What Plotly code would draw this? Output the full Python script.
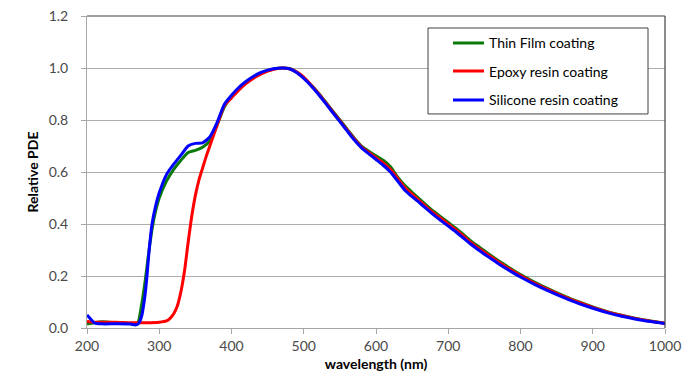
import plotly.graph_objects as go

# ---- data ----
wl_thin = [200, 210, 220, 230, 240, 250, 260, 270, 275, 280, 285, 290, 295, 300, 310, 320, 330, 340, 350, 360, 370, 380, 390, 400, 410, 420, 430, 440, 450, 460, 470, 480, 490, 500, 510, 520, 530, 540, 550, 560, 570, 580, 590, 600, 610, 620, 630, 640, 650, 660, 670, 680, 690, 700, 710, 720, 730, 740, 750, 760, 770, 780, 790, 800, 820, 840, 860, 880, 900, 920, 940, 960, 980, 1000]
thin_film = [0.015, 0.02, 0.024, 0.022, 0.02, 0.018, 0.017, 0.018, 0.08, 0.17, 0.28, 0.38, 0.45, 0.50, 0.565, 0.61, 0.645, 0.675, 0.683, 0.695, 0.72, 0.78, 0.85, 0.89, 0.92, 0.945, 0.965, 0.98, 0.99, 0.997, 1.0, 0.998, 0.985, 0.962, 0.935, 0.905, 0.87, 0.835, 0.80, 0.765, 0.73, 0.70, 0.68, 0.662, 0.645, 0.62, 0.58, 0.548, 0.522, 0.497, 0.472, 0.448, 0.427, 0.406, 0.385, 0.362, 0.338, 0.317, 0.297, 0.277, 0.258, 0.24, 0.222, 0.206, 0.176, 0.149, 0.124, 0.101, 0.081, 0.063, 0.049, 0.037, 0.027, 0.018]

wl_epoxy = [200, 210, 220, 240, 260, 280, 300, 310, 315, 320, 325, 330, 335, 340, 345, 350, 355, 360, 365, 370, 380, 390, 400, 410, 420, 430, 440, 450, 460, 470, 480, 490, 500, 510, 520, 530, 540, 550, 560, 570, 580, 590, 600, 610, 620, 630, 640, 650, 660, 670, 680, 690, 700, 710, 720, 730, 740, 750, 760, 770, 780, 790, 800, 820, 840, 860, 880, 900, 920, 940, 960, 980, 1000]
epoxy = [0.025, 0.022, 0.022, 0.022, 0.02, 0.02, 0.022, 0.027, 0.037, 0.055, 0.085, 0.14, 0.22, 0.33, 0.43, 0.51, 0.57, 0.615, 0.66, 0.70, 0.78, 0.855, 0.885, 0.915, 0.94, 0.96, 0.975, 0.988, 0.996, 1.0, 0.997, 0.985, 0.965, 0.935, 0.903, 0.868, 0.832, 0.797, 0.762, 0.727, 0.697, 0.675, 0.655, 0.635, 0.61, 0.575, 0.54, 0.515, 0.49, 0.465, 0.442, 0.421, 0.4, 0.379, 0.356, 0.332, 0.311, 0.291, 0.272, 0.253, 0.235, 0.218, 0.202, 0.172, 0.146, 0.121, 0.099, 0.079, 0.062, 0.048, 0.036, 0.026, 0.018]

wl_sil = [200, 205, 210, 220, 240, 260, 268, 272, 276, 280, 283, 286, 290, 295, 300, 310, 320, 330, 340, 350, 360, 370, 380, 390, 400, 410, 420, 430, 440, 450, 460, 470, 480, 490, 500, 510, 520, 530, 540, 550, 560, 570, 580, 590, 600, 610, 620, 630, 640, 650, 660, 670, 680, 690, 700, 710, 720, 730, 740, 750, 760, 770, 780, 790, 800, 820, 840, 860, 880, 900, 920, 940, 960, 980, 1000]
silicone = [0.05, 0.035, 0.02, 0.016, 0.016, 0.015, 0.012, 0.02, 0.05, 0.12, 0.2, 0.3, 0.4, 0.47, 0.52, 0.59, 0.63, 0.665, 0.70, 0.71, 0.712, 0.735, 0.79, 0.86, 0.895, 0.925, 0.948, 0.967, 0.982, 0.992, 0.998, 1.0, 0.997, 0.983, 0.96, 0.932, 0.9, 0.865, 0.829, 0.794, 0.758, 0.723, 0.693, 0.67, 0.648, 0.626, 0.6, 0.565, 0.53, 0.505, 0.482, 0.458, 0.434, 0.413, 0.392, 0.371, 0.348, 0.325, 0.304, 0.284, 0.265, 0.246, 0.229, 0.212, 0.196, 0.167, 0.141, 0.117, 0.095, 0.076, 0.059, 0.045, 0.034, 0.025, 0.017]

series_names = ["Thin Film coating", "Epoxy resin coating", "Silicone resin coating"]
series_colors = ["#0A7A0A", "#FF0000", "#0000FF"]

x_ticks = [200, 300, 400, 500, 600, 700, 800, 900, 1000]
y_ticks = [0.0, 0.2, 0.4, 0.6, 0.8, 1.0, 1.2]

fig = go.Figure()
for wl, vals, name, col in [(wl_thin, thin_film, series_names[0], series_colors[0]),
                            (wl_epoxy, epoxy, series_names[1], series_colors[1]),
                            (wl_sil, silicone, series_names[2], series_colors[2])]:
    fig.add_trace(go.Scatter(x=wl, y=vals, mode="lines", name=name,
                             line=dict(color=col, width=3, shape="spline", smoothing=0.6),
                             showlegend=False))

font_main = "Lato, 'Liberation Sans', Arial, sans-serif"

# the page body has an 8px default margin, so the figure is a bit smaller than the window
fig.update_layout(
    width=687, height=364,
    margin=dict(l=79, r=30, t=8, b=44, autoexpand=False),
    paper_bgcolor="white", plot_bgcolor="white",
    font=dict(family=font_main, size=13, color="#404040"),
    xaxis=dict(range=[200, 1000], tickvals=x_ticks, ticktext=[str(v) for v in x_ticks],
               automargin=False, ticklabeloverflow="allow",
               showgrid=False, zeroline=False, showline=True, linecolor="#A6A6A6", linewidth=1,
               ticks="outside", ticklen=5, tickcolor="#A6A6A6",
               tickfont=dict(size=14, color="#4a4a4a"),
               title=dict(text="<b>wavelength (nm)</b>", font=dict(size=14, color="#000000"), standoff=6)),
    yaxis=dict(range=[0, 1.2], tickvals=y_ticks, ticktext=[f"{v:.1f}" for v in y_ticks],
               automargin=False, ticklabeloverflow="allow", ticklabelstandoff=10,
               showgrid=True, gridcolor="#ADADAD", gridwidth=1, zeroline=False,
               showline=True, linecolor="#A6A6A6", linewidth=1,
               ticks="outside", ticklen=5, tickcolor="#A6A6A6",
               tickfont=dict(size=14, color="#4a4a4a"),
               title=dict(text="<b>Relative PDE</b>", font=dict(size=14, color="#000000"), standoff=6)),
)

# dark plot-area border on top and right
fig.add_shape(type="line", xref="paper", yref="paper", x0=0, x1=1, y0=1, y1=1,
              line=dict(color="#404040", width=1.2))
fig.add_shape(type="line", xref="paper", yref="paper", x0=1, x1=1, y0=0, y1=1,
              line=dict(color="#404040", width=1.2))

# legend box drawn manually
fig.add_shape(type="rect", xref="paper", yref="paper", x0=0.590, x1=0.9706, y0=0.686, y1=0.9615,
              line=dict(color="#404040", width=1), fillcolor="white")
legend_y = [0.9135, 0.8237, 0.7308]
for name, col, ly in zip(series_names, series_colors, legend_y):
    fig.add_shape(type="line", xref="paper", yref="paper", x0=0.6332, x1=0.6869, y0=ly, y1=ly,
                  line=dict(color=col, width=3))
    fig.add_annotation(xref="paper", yref="paper", x=0.6925, y=ly, text=name, showarrow=False,
                       xanchor="left", yanchor="middle",
                       font=dict(family=font_main, size=14, color="#000000"))

fig.write_html("out.html")
